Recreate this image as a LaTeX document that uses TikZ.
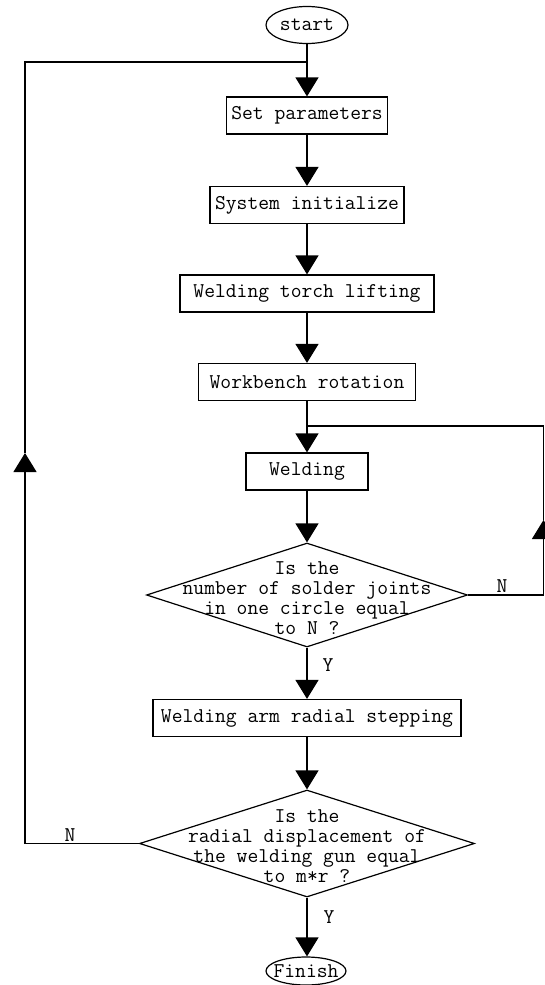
\documentclass[tikz,border=0pt]{standalone}
\usepackage{fontspec}
\usetikzlibrary{shapes.geometric}
\usetikzlibrary{arrows.meta}

\tikzset{
  every node/.style={font=\ttfamily\fontsize{21}{20}\selectfont},
  flowbox/.style={draw, rectangle, line width=1.2pt, minimum height=37pt, inner sep=0pt},
  term/.style={draw, ellipse, line width=1.2pt, inner sep=0pt, minimum width=82pt, minimum height=37pt},
  decide/.style={draw, diamond, line width=1.2pt, inner sep=0pt},
  arr/.style={line width=1.2pt, -{Triangle[width=23pt,length=19pt]}},
  ln/.style={line width=1.2pt}
}

\begin{document}
\begin{tikzpicture}[x=1pt,y=-1pt]
            \useasboundingbox (0,0) rectangle (544,985);
            \node[term] (start) at (307,25) {start};
            \node[flowbox, minimum width=161pt] (set) at (307,115.5) {Set parameters};
            \node[flowbox, minimum width=194pt] (sys) at (307,205) {System initialize};
            \node[flowbox, minimum width=254pt] (torch) at (307,293.5) {Welding torch lifting};
            \node[flowbox, minimum width=217pt] (bench) at (307,382) {Workbench rotation};
            \node[flowbox, minimum width=122pt] (weld) at (307,471.5) {Welding};
            \node[decide, minimum width=321pt, minimum height=104pt] (dec1) at (307,595) {};
            \node[align=center] (q1) at (307,598) {Is the\\number of solder joints\\in one circle equal\\to N ?};
            \node[flowbox, minimum width=308pt] (step) at (307,718) {Welding arm radial stepping};
            \node[decide, minimum width=335pt, minimum height=107pt] (dec2) at (307,843.5) {};
            \node[align=center] (q2) at (307,846) {Is the\\radial displacement of\\the welding gun equal\\to m*r ?};
            \node[term, minimum width=80pt, minimum height=28pt, inner xsep=-6pt] (finish) at (306,971) {Finish};

            \coordinate (join1) at (307,62);
            \coordinate (join2) at (307,426);
            \coordinate (tipL) at (25,453);
            \coordinate (tipR) at (543.5,520);

            \foreach \a/\b in {start/set, set/sys, sys/torch, torch/bench, bench/weld,
                               weld/dec1, dec1/step, step/dec2} {
              \draw[arr] (\a) -- (\b);
            }
            \draw[arr] (dec2.south) -- (dec2.south |- finish.north);
            \draw[arr] (dec2.west) -| (tipL);
            \draw[ln] (tipL) |- (join1);
            \draw[arr] (dec1.east) -| (tipR);
            \draw[ln] (tipR) |- (join2);

            \node (n1) at (502,586) {N};
            \node (y1) at (328,665) {Y};
            \node (n2) at (70,835) {N};
            \node (y2) at (329,917) {Y};
        \end{tikzpicture}
\end{document}
